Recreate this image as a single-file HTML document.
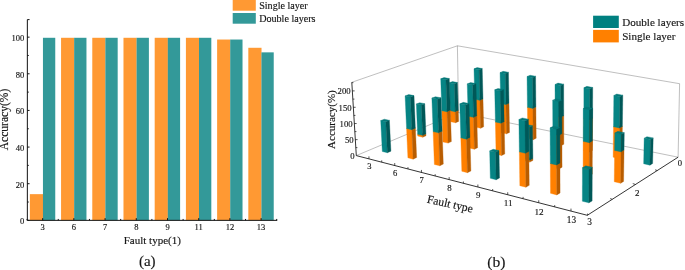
<!DOCTYPE html>
<html><head><meta charset="utf-8"><title>Figure</title><style>html,body{margin:0;padding:0;background:#fff;overflow:hidden}text{stroke:#151515;stroke-width:.15px;paint-order:stroke fill}</style></head><body>
<svg width="685" height="270" viewBox="0 0 685 270" style="display:block;font-family:'Liberation Serif','Times New Roman',serif" fill="#151515">
<rect width="685" height="270" fill="#fff"/>
<rect x="29.86" y="194.15" width="13.2" height="26.20" fill="#FF9933"/>
<rect x="42.95" y="37.79" width="12.3" height="182.56" fill="#339999"/>
<rect x="61.06" y="37.79" width="13.2" height="182.56" fill="#FF9933"/>
<rect x="74.16" y="37.79" width="12.3" height="182.56" fill="#339999"/>
<rect x="92.28" y="37.79" width="13.2" height="182.56" fill="#FF9933"/>
<rect x="105.38" y="37.79" width="12.3" height="182.56" fill="#339999"/>
<rect x="123.48" y="37.79" width="13.2" height="182.56" fill="#FF9933"/>
<rect x="136.59" y="37.79" width="12.3" height="182.56" fill="#339999"/>
<rect x="154.69" y="37.79" width="13.2" height="182.56" fill="#FF9933"/>
<rect x="167.80" y="37.79" width="12.3" height="182.56" fill="#339999"/>
<rect x="185.91" y="37.79" width="13.2" height="182.56" fill="#FF9933"/>
<rect x="199.01" y="37.79" width="12.3" height="182.56" fill="#339999"/>
<rect x="217.12" y="39.53" width="13.2" height="180.82" fill="#FF9933"/>
<rect x="230.22" y="39.53" width="12.3" height="180.82" fill="#339999"/>
<rect x="248.32" y="47.78" width="13.2" height="172.57" fill="#FF9933"/>
<rect x="261.43" y="52.36" width="12.3" height="167.99" fill="#339999"/>
<path d="M27.35 19.6 V220.35 H277.2 M27.35 19.6 h2.2 M27.35 220.35 h2.2 M27.35 202.03 h1.4 M27.35 183.71 h2.2 M27.35 165.39 h1.4 M27.35 147.07 h2.2 M27.35 128.75 h1.4 M27.35 110.43 h2.2 M27.35 92.11 h1.4 M27.35 73.79 h2.2 M27.35 55.47 h1.4 M27.35 37.15 h2.2 M27.05 220.35 v-1.4 M42.66 220.35 v-2.2 M58.26 220.35 v-1.4 M73.86 220.35 v-2.2 M89.47 220.35 v-1.4 M105.08 220.35 v-2.2 M120.68 220.35 v-1.4 M136.28 220.35 v-2.2 M151.89 220.35 v-1.4 M167.50 220.35 v-2.2 M183.10 220.35 v-1.4 M198.71 220.35 v-2.2 M214.31 220.35 v-1.4 M229.92 220.35 v-2.2 M245.52 220.35 v-1.4 M261.12 220.35 v-2.2 M276.73 220.35 v-1.4" stroke="#111" stroke-width="1" fill="none"/>
<text x="24.2" y="224.2" font-size="8.5" text-anchor="end">0</text>
<text x="24.2" y="187.6" font-size="8.5" text-anchor="end">20</text>
<text x="24.2" y="151.0" font-size="8.5" text-anchor="end">40</text>
<text x="24.2" y="114.3" font-size="8.5" text-anchor="end">60</text>
<text x="24.2" y="77.7" font-size="8.5" text-anchor="end">80</text>
<text x="24.2" y="41.0" font-size="8.5" text-anchor="end">100</text>
<text x="42.7" y="230.0" font-size="8.5" text-anchor="middle">3</text>
<text x="73.9" y="230.0" font-size="8.5" text-anchor="middle">6</text>
<text x="105.1" y="230.0" font-size="8.5" text-anchor="middle">7</text>
<text x="136.3" y="230.0" font-size="8.5" text-anchor="middle">8</text>
<text x="167.5" y="230.0" font-size="8.5" text-anchor="middle">9</text>
<text x="198.7" y="230.0" font-size="8.5" text-anchor="middle">11</text>
<text x="229.9" y="230.0" font-size="8.5" text-anchor="middle">12</text>
<text x="261.1" y="230.0" font-size="8.5" text-anchor="middle">13</text>
<text x="152.3" y="244.4" font-size="11" text-anchor="middle">Fault type(1)</text>
<text x="147.3" y="266.2" font-size="15" text-anchor="middle">(a)</text>
<text transform="translate(8.2,119.5) rotate(-90)" font-size="11.55" text-anchor="middle">Accuracy(%)</text>
<rect x="232.7" y="0" width="23.1" height="10.7" fill="#FF9933"/>
<rect x="232.7" y="13" width="23.1" height="10.7" fill="#339999"/>
<text x="259.2" y="9.2" font-size="10.1">Single layer</text>
<text x="259.2" y="21.9" font-size="10.1">Double layers</text>
<path d="M356.3 155.6 L458.6 112.6 M458.6 112.6 L678.1 157.2 M458.6 112.6 L457.4 45.8 M678.1 157.2 L679.6 83.7 M351.8 82.3 L457.4 45.8 M457.4 45.8 L679.6 83.7" stroke="#333" stroke-width="0.32" fill="none"/>
<polygon points="450.64,121.68 455.55,122.75 455.20,111.73 450.28,110.69" fill="#FF8000" stroke="#FF8000" stroke-width="0.35" stroke-linejoin="round"/>
<polygon points="455.55,122.75 458.64,121.40 458.30,110.41 455.20,111.73" fill="#B85C00" stroke="#B85C00" stroke-width="0.35" stroke-linejoin="round"/>
<polygon points="450.28,110.69 455.20,111.73 458.30,110.41 453.38,109.38" fill="#E07000" stroke="#E07000" stroke-width="0.35" stroke-linejoin="round"/>
<polygon points="450.28,110.69 455.20,111.73 454.31,83.74 449.35,82.78" fill="#068484" stroke="#068484" stroke-width="0.35" stroke-linejoin="round"/>
<polygon points="455.20,111.73 458.30,110.41 457.43,82.50 454.31,83.74" fill="#005858" stroke="#005858" stroke-width="0.35" stroke-linejoin="round"/>
<polygon points="449.35,82.78 454.31,83.74 457.43,82.50 452.48,81.55" fill="#047878" stroke="#047878" stroke-width="0.35" stroke-linejoin="round"/>
<polygon points="475.53,127.11 480.60,128.22 479.90,100.28 474.79,99.26" fill="#FF8000" stroke="#FF8000" stroke-width="0.35" stroke-linejoin="round"/>
<polygon points="480.60,128.22 483.65,126.82 482.98,98.97 479.90,100.28" fill="#B85C00" stroke="#B85C00" stroke-width="0.35" stroke-linejoin="round"/>
<polygon points="474.79,99.26 479.90,100.28 482.98,98.97 477.87,97.96" fill="#E07000" stroke="#E07000" stroke-width="0.35" stroke-linejoin="round"/>
<polygon points="474.79,99.26 479.90,100.28 479.14,69.75 473.99,68.82" fill="#068484" stroke="#068484" stroke-width="0.35" stroke-linejoin="round"/>
<polygon points="479.90,100.28 482.98,98.97 482.24,68.53 479.14,69.75" fill="#005858" stroke="#005858" stroke-width="0.35" stroke-linejoin="round"/>
<polygon points="473.99,68.82 479.14,69.75 482.24,68.53 477.10,67.61" fill="#047878" stroke="#047878" stroke-width="0.35" stroke-linejoin="round"/>
<polygon points="501.24,132.72 506.48,133.86 505.95,104.58 500.67,103.52" fill="#FF8000" stroke="#FF8000" stroke-width="0.35" stroke-linejoin="round"/>
<polygon points="506.48,133.86 509.49,132.42 508.99,103.23 505.95,104.58" fill="#B85C00" stroke="#B85C00" stroke-width="0.35" stroke-linejoin="round"/>
<polygon points="500.67,103.52 505.95,104.58 508.99,103.23 503.71,102.18" fill="#E07000" stroke="#E07000" stroke-width="0.35" stroke-linejoin="round"/>
<polygon points="500.67,103.52 505.95,104.58 505.39,73.55 500.07,72.59" fill="#068484" stroke="#068484" stroke-width="0.35" stroke-linejoin="round"/>
<polygon points="505.95,104.58 508.99,103.23 508.45,72.30 505.39,73.55" fill="#005858" stroke="#005858" stroke-width="0.35" stroke-linejoin="round"/>
<polygon points="500.07,72.59 505.39,73.55 508.45,72.30 503.14,71.35" fill="#047878" stroke="#047878" stroke-width="0.35" stroke-linejoin="round"/>
<polygon points="417.71,136.05 422.69,137.21 422.61,135.37 417.63,134.21" fill="#FF8000" stroke="#FF8000" stroke-width="0.35" stroke-linejoin="round"/>
<polygon points="422.69,137.21 426.00,135.75 425.92,133.92 422.61,135.37" fill="#B85C00" stroke="#B85C00" stroke-width="0.35" stroke-linejoin="round"/>
<polygon points="417.63,134.21 422.61,135.37 425.92,133.92 420.95,132.77" fill="#E07000" stroke="#E07000" stroke-width="0.35" stroke-linejoin="round"/>
<polygon points="417.63,134.21 422.61,135.37 421.37,105.06 416.35,103.99" fill="#068484" stroke="#068484" stroke-width="0.35" stroke-linejoin="round"/>
<polygon points="422.61,135.37 425.92,133.92 424.72,103.70 421.37,105.06" fill="#005858" stroke="#005858" stroke-width="0.35" stroke-linejoin="round"/>
<polygon points="416.35,103.99 421.37,105.06 424.72,103.70 419.70,102.65" fill="#047878" stroke="#047878" stroke-width="0.35" stroke-linejoin="round"/>
<polygon points="527.81,138.52 533.23,139.70 532.89,108.38 527.43,107.30" fill="#FF8000" stroke="#FF8000" stroke-width="0.35" stroke-linejoin="round"/>
<polygon points="533.23,139.70 536.19,138.21 535.88,107.00 532.89,108.38" fill="#B85C00" stroke="#B85C00" stroke-width="0.35" stroke-linejoin="round"/>
<polygon points="527.43,107.30 532.89,108.38 535.88,107.00 530.43,105.92" fill="#E07000" stroke="#E07000" stroke-width="0.35" stroke-linejoin="round"/>
<polygon points="527.43,107.30 532.89,108.38 532.56,77.49 527.05,76.50" fill="#068484" stroke="#068484" stroke-width="0.35" stroke-linejoin="round"/>
<polygon points="532.89,108.38 535.88,107.00 535.58,76.21 532.56,77.49" fill="#005858" stroke="#005858" stroke-width="0.35" stroke-linejoin="round"/>
<polygon points="527.05,76.50 532.56,77.49 535.58,76.21 530.07,75.22" fill="#047878" stroke="#047878" stroke-width="0.35" stroke-linejoin="round"/>
<polygon points="442.95,141.92 448.10,143.11 447.03,111.74 441.84,110.63" fill="#FF8000" stroke="#FF8000" stroke-width="0.35" stroke-linejoin="round"/>
<polygon points="448.10,143.11 451.37,141.61 450.34,110.33 447.03,111.74" fill="#B85C00" stroke="#B85C00" stroke-width="0.35" stroke-linejoin="round"/>
<polygon points="441.84,110.63 447.03,111.74 450.34,110.33 445.16,109.24" fill="#E07000" stroke="#E07000" stroke-width="0.35" stroke-linejoin="round"/>
<polygon points="441.84,110.63 447.03,111.74 445.95,79.81 440.72,78.81" fill="#068484" stroke="#068484" stroke-width="0.35" stroke-linejoin="round"/>
<polygon points="447.03,111.74 450.34,110.33 449.29,78.52 445.95,79.81" fill="#005858" stroke="#005858" stroke-width="0.35" stroke-linejoin="round"/>
<polygon points="440.72,78.81 445.95,79.81 449.29,78.52 444.06,77.52" fill="#047878" stroke="#047878" stroke-width="0.35" stroke-linejoin="round"/>
<polygon points="555.29,144.51 560.90,145.73 560.81,117.14 555.15,116.00" fill="#FF8000" stroke="#FF8000" stroke-width="0.35" stroke-linejoin="round"/>
<polygon points="560.90,145.73 563.81,144.20 563.74,115.70 560.81,117.14" fill="#B85C00" stroke="#B85C00" stroke-width="0.35" stroke-linejoin="round"/>
<polygon points="555.15,116.00 560.81,117.14 563.74,115.70 558.10,114.57" fill="#E07000" stroke="#E07000" stroke-width="0.35" stroke-linejoin="round"/>
<polygon points="555.15,116.00 560.81,117.14 560.70,85.48 555.00,84.45" fill="#068484" stroke="#068484" stroke-width="0.35" stroke-linejoin="round"/>
<polygon points="560.81,117.14 563.74,115.70 563.66,84.15 560.70,85.48" fill="#005858" stroke="#005858" stroke-width="0.35" stroke-linejoin="round"/>
<polygon points="555.00,84.45 560.70,85.48 563.66,84.15 557.97,83.12" fill="#047878" stroke="#047878" stroke-width="0.35" stroke-linejoin="round"/>
<polygon points="469.06,147.99 474.39,149.23 473.53,117.36 468.16,116.22" fill="#FF8000" stroke="#FF8000" stroke-width="0.35" stroke-linejoin="round"/>
<polygon points="474.39,149.23 477.62,147.68 476.80,115.91 473.53,117.36" fill="#B85C00" stroke="#B85C00" stroke-width="0.35" stroke-linejoin="round"/>
<polygon points="468.16,116.22 473.53,117.36 476.80,115.91 471.43,114.78" fill="#E07000" stroke="#E07000" stroke-width="0.35" stroke-linejoin="round"/>
<polygon points="468.16,116.22 473.53,117.36 472.66,84.93 467.24,83.89" fill="#068484" stroke="#068484" stroke-width="0.35" stroke-linejoin="round"/>
<polygon points="473.53,117.36 476.80,115.91 475.96,83.59 472.66,84.93" fill="#005858" stroke="#005858" stroke-width="0.35" stroke-linejoin="round"/>
<polygon points="467.24,83.89 472.66,84.93 475.96,83.59 470.55,82.56" fill="#047878" stroke="#047878" stroke-width="0.35" stroke-linejoin="round"/>
<polygon points="382.31,151.49 387.36,152.74 385.79,121.77 380.71,120.61" fill="#068484" stroke="#068484" stroke-width="0.35" stroke-linejoin="round"/>
<polygon points="387.36,152.74 390.92,151.17 389.39,120.31 385.79,121.77" fill="#005858" stroke="#005858" stroke-width="0.35" stroke-linejoin="round"/>
<polygon points="380.71,120.61 385.79,121.77 389.39,120.31 384.31,119.16" fill="#047878" stroke="#047878" stroke-width="0.35" stroke-linejoin="round"/>
<polygon points="583.72,150.71 589.53,151.98 589.68,119.67 583.82,118.51" fill="#FF8000" stroke="#FF8000" stroke-width="0.35" stroke-linejoin="round"/>
<polygon points="589.53,151.98 592.39,150.40 592.56,118.20 589.68,119.67" fill="#B85C00" stroke="#B85C00" stroke-width="0.35" stroke-linejoin="round"/>
<polygon points="583.82,118.51 589.68,119.67 592.56,118.20 586.71,117.04" fill="#E07000" stroke="#E07000" stroke-width="0.35" stroke-linejoin="round"/>
<polygon points="583.82,118.51 589.68,119.67 589.82,88.78 583.91,87.71" fill="#068484" stroke="#068484" stroke-width="0.35" stroke-linejoin="round"/>
<polygon points="589.68,119.67 592.56,118.20 592.72,87.41 589.82,88.78" fill="#005858" stroke="#005858" stroke-width="0.35" stroke-linejoin="round"/>
<polygon points="583.91,87.71 589.82,88.78 592.72,87.41 586.83,86.35" fill="#047878" stroke="#047878" stroke-width="0.35" stroke-linejoin="round"/>
<polygon points="496.07,154.27 501.59,155.55 500.96,123.18 495.40,122.00" fill="#FF8000" stroke="#FF8000" stroke-width="0.35" stroke-linejoin="round"/>
<polygon points="501.59,155.55 504.78,153.95 504.18,121.69 500.96,123.18" fill="#B85C00" stroke="#B85C00" stroke-width="0.35" stroke-linejoin="round"/>
<polygon points="495.40,122.00 500.96,123.18 504.18,121.69 498.63,120.51" fill="#E07000" stroke="#E07000" stroke-width="0.35" stroke-linejoin="round"/>
<polygon points="495.40,122.00 500.96,123.18 500.33,90.89 494.72,89.81" fill="#068484" stroke="#068484" stroke-width="0.35" stroke-linejoin="round"/>
<polygon points="500.96,123.18 504.18,121.69 503.58,89.50 500.33,90.89" fill="#005858" stroke="#005858" stroke-width="0.35" stroke-linejoin="round"/>
<polygon points="494.72,89.81 500.33,90.89 503.58,89.50 497.98,88.44" fill="#047878" stroke="#047878" stroke-width="0.35" stroke-linejoin="round"/>
<polygon points="407.90,157.85 413.12,159.15 411.83,129.65 406.57,128.44" fill="#FF8000" stroke="#FF8000" stroke-width="0.35" stroke-linejoin="round"/>
<polygon points="413.12,159.15 416.65,157.53 415.39,128.13 411.83,129.65" fill="#B85C00" stroke="#B85C00" stroke-width="0.35" stroke-linejoin="round"/>
<polygon points="406.57,128.44 411.83,129.65 415.39,128.13 410.14,126.93" fill="#E07000" stroke="#E07000" stroke-width="0.35" stroke-linejoin="round"/>
<polygon points="406.57,128.44 411.83,129.65 410.41,97.01 405.10,95.91" fill="#068484" stroke="#068484" stroke-width="0.35" stroke-linejoin="round"/>
<polygon points="411.83,129.65 415.39,128.13 414.00,95.60 410.41,97.01" fill="#005858" stroke="#005858" stroke-width="0.35" stroke-linejoin="round"/>
<polygon points="405.10,95.91 410.41,97.01 414.00,95.60 408.71,94.51" fill="#047878" stroke="#047878" stroke-width="0.35" stroke-linejoin="round"/>
<polygon points="613.16,157.14 619.18,158.45 619.56,127.94 613.50,126.72" fill="#FF8000" stroke="#FF8000" stroke-width="0.35" stroke-linejoin="round"/>
<polygon points="619.18,158.45 621.97,156.82 622.38,126.41 619.56,127.94" fill="#B85C00" stroke="#B85C00" stroke-width="0.35" stroke-linejoin="round"/>
<polygon points="613.50,126.72 619.56,127.94 622.38,126.41 616.33,125.20" fill="#E07000" stroke="#E07000" stroke-width="0.35" stroke-linejoin="round"/>
<polygon points="613.50,126.72 619.56,127.94 619.96,96.57 613.84,95.46" fill="#068484" stroke="#068484" stroke-width="0.35" stroke-linejoin="round"/>
<polygon points="619.56,127.94 622.38,126.41 622.80,95.15 619.96,96.57" fill="#005858" stroke="#005858" stroke-width="0.35" stroke-linejoin="round"/>
<polygon points="613.84,95.46 619.96,96.57 622.80,95.15 616.70,94.05" fill="#047878" stroke="#047878" stroke-width="0.35" stroke-linejoin="round"/>
<polygon points="524.05,160.78 529.77,162.11 529.74,160.15 524.02,158.83" fill="#FF8000" stroke="#FF8000" stroke-width="0.35" stroke-linejoin="round"/>
<polygon points="529.77,162.11 532.91,160.45 532.89,158.50 529.74,160.15" fill="#B85C00" stroke="#B85C00" stroke-width="0.35" stroke-linejoin="round"/>
<polygon points="524.02,158.83 529.74,160.15 532.89,158.50 527.18,157.19" fill="#E07000" stroke="#E07000" stroke-width="0.35" stroke-linejoin="round"/>
<polygon points="524.02,158.83 529.74,160.15 529.35,127.21 523.59,126.00" fill="#068484" stroke="#068484" stroke-width="0.35" stroke-linejoin="round"/>
<polygon points="529.74,160.15 532.89,158.50 532.53,125.68 529.35,127.21" fill="#005858" stroke="#005858" stroke-width="0.35" stroke-linejoin="round"/>
<polygon points="523.59,126.00 529.35,127.21 532.53,125.68 526.77,124.47" fill="#047878" stroke="#047878" stroke-width="0.35" stroke-linejoin="round"/>
<polygon points="434.39,164.44 439.80,165.78 438.60,132.82 433.14,131.58" fill="#FF8000" stroke="#FF8000" stroke-width="0.35" stroke-linejoin="round"/>
<polygon points="439.80,165.78 443.29,164.11 442.13,131.26 438.60,132.82" fill="#B85C00" stroke="#B85C00" stroke-width="0.35" stroke-linejoin="round"/>
<polygon points="433.14,131.58 438.60,132.82 442.13,131.26 436.68,130.03" fill="#E07000" stroke="#E07000" stroke-width="0.35" stroke-linejoin="round"/>
<polygon points="433.14,131.58 438.60,132.82 437.38,99.25 431.87,98.12" fill="#068484" stroke="#068484" stroke-width="0.35" stroke-linejoin="round"/>
<polygon points="438.60,132.82 442.13,131.26 440.94,97.80 437.38,99.25" fill="#005858" stroke="#005858" stroke-width="0.35" stroke-linejoin="round"/>
<polygon points="431.87,98.12 437.38,99.25 440.94,97.80 435.45,96.68" fill="#047878" stroke="#047878" stroke-width="0.35" stroke-linejoin="round"/>
<polygon points="643.66,163.79 649.90,165.15 650.44,139.51 644.16,138.24" fill="#068484" stroke="#068484" stroke-width="0.35" stroke-linejoin="round"/>
<polygon points="649.90,165.15 652.63,163.46 653.18,137.91 650.44,139.51" fill="#005858" stroke="#005858" stroke-width="0.35" stroke-linejoin="round"/>
<polygon points="644.16,138.24 650.44,139.51 653.18,137.91 646.92,136.65" fill="#047878" stroke="#047878" stroke-width="0.35" stroke-linejoin="round"/>
<polygon points="553.04,167.52 558.96,168.89 558.83,135.46 552.86,134.19" fill="#FF8000" stroke="#FF8000" stroke-width="0.35" stroke-linejoin="round"/>
<polygon points="558.96,168.89 562.05,167.19 561.95,133.86 558.83,135.46" fill="#B85C00" stroke="#B85C00" stroke-width="0.35" stroke-linejoin="round"/>
<polygon points="552.86,134.19 558.83,135.46 561.95,133.86 555.98,132.60" fill="#E07000" stroke="#E07000" stroke-width="0.35" stroke-linejoin="round"/>
<polygon points="552.86,134.19 558.83,135.46 558.70,101.40 552.67,100.25" fill="#068484" stroke="#068484" stroke-width="0.35" stroke-linejoin="round"/>
<polygon points="558.83,135.46 561.95,133.86 561.85,99.92 558.70,101.40" fill="#005858" stroke="#005858" stroke-width="0.35" stroke-linejoin="round"/>
<polygon points="552.67,100.25 558.70,101.40 561.85,99.92 555.83,98.78" fill="#047878" stroke="#047878" stroke-width="0.35" stroke-linejoin="round"/>
<polygon points="461.84,171.27 467.45,172.66 466.48,139.15 460.83,137.87" fill="#FF8000" stroke="#FF8000" stroke-width="0.35" stroke-linejoin="round"/>
<polygon points="467.45,172.66 470.90,170.93 469.97,137.54 466.48,139.15" fill="#B85C00" stroke="#B85C00" stroke-width="0.35" stroke-linejoin="round"/>
<polygon points="460.83,137.87 466.48,139.15 469.97,137.54 464.32,136.26" fill="#E07000" stroke="#E07000" stroke-width="0.35" stroke-linejoin="round"/>
<polygon points="460.83,137.87 466.48,139.15 465.50,105.02 459.79,103.85" fill="#068484" stroke="#068484" stroke-width="0.35" stroke-linejoin="round"/>
<polygon points="466.48,139.15 469.97,137.54 469.01,103.53 465.50,105.02" fill="#005858" stroke="#005858" stroke-width="0.35" stroke-linejoin="round"/>
<polygon points="459.79,103.85 465.50,105.02 469.01,103.53 463.32,102.36" fill="#047878" stroke="#047878" stroke-width="0.35" stroke-linejoin="round"/>
<polygon points="583.09,174.50 589.23,175.93 589.38,142.63 583.18,141.31" fill="#FF8000" stroke="#FF8000" stroke-width="0.35" stroke-linejoin="round"/>
<polygon points="589.23,175.93 592.26,174.17 592.43,140.97 589.38,142.63" fill="#B85C00" stroke="#B85C00" stroke-width="0.35" stroke-linejoin="round"/>
<polygon points="583.18,141.31 589.38,142.63 592.43,140.97 586.25,139.67" fill="#E07000" stroke="#E07000" stroke-width="0.35" stroke-linejoin="round"/>
<polygon points="583.18,141.31 589.38,142.63 589.53,109.75 583.27,108.54" fill="#068484" stroke="#068484" stroke-width="0.35" stroke-linejoin="round"/>
<polygon points="589.38,142.63 592.43,140.97 592.61,108.21 589.53,109.75" fill="#005858" stroke="#005858" stroke-width="0.35" stroke-linejoin="round"/>
<polygon points="583.27,108.54 589.53,109.75 592.61,108.21 586.37,107.02" fill="#047878" stroke="#047878" stroke-width="0.35" stroke-linejoin="round"/>
<polygon points="490.31,178.34 496.13,179.79 495.55,152.25 489.69,150.89" fill="#068484" stroke="#068484" stroke-width="0.35" stroke-linejoin="round"/>
<polygon points="496.13,179.79 499.53,178.00 498.97,150.55 495.55,152.25" fill="#005858" stroke="#005858" stroke-width="0.35" stroke-linejoin="round"/>
<polygon points="489.69,150.89 495.55,152.25 498.97,150.55 493.12,149.21" fill="#047878" stroke="#047878" stroke-width="0.35" stroke-linejoin="round"/>
<polygon points="614.26,181.75 620.64,183.24 621.05,151.81 614.62,150.43" fill="#FF8000" stroke="#FF8000" stroke-width="0.35" stroke-linejoin="round"/>
<polygon points="620.64,183.24 623.60,181.41 624.04,150.09 621.05,151.81" fill="#B85C00" stroke="#B85C00" stroke-width="0.35" stroke-linejoin="round"/>
<polygon points="614.62,150.43 621.05,151.81 624.04,150.09 617.62,148.72" fill="#E07000" stroke="#E07000" stroke-width="0.35" stroke-linejoin="round"/>
<polygon points="614.62,150.43 621.05,151.81 621.29,134.30 614.82,132.99" fill="#068484" stroke="#068484" stroke-width="0.35" stroke-linejoin="round"/>
<polygon points="621.05,151.81 624.04,150.09 624.28,132.65 621.29,134.30" fill="#005858" stroke="#005858" stroke-width="0.35" stroke-linejoin="round"/>
<polygon points="614.82,132.99 621.29,134.30 624.28,132.65 617.83,131.34" fill="#047878" stroke="#047878" stroke-width="0.35" stroke-linejoin="round"/>
<polygon points="519.84,185.69 525.88,187.19 525.44,153.25 519.35,151.86" fill="#FF8000" stroke="#FF8000" stroke-width="0.35" stroke-linejoin="round"/>
<polygon points="525.88,187.19 529.23,185.34 528.82,151.51 525.44,153.25" fill="#B85C00" stroke="#B85C00" stroke-width="0.35" stroke-linejoin="round"/>
<polygon points="519.35,151.86 525.44,153.25 528.82,151.51 522.74,150.14" fill="#E07000" stroke="#E07000" stroke-width="0.35" stroke-linejoin="round"/>
<polygon points="519.35,151.86 525.44,153.25 525.02,120.79 518.88,119.52" fill="#068484" stroke="#068484" stroke-width="0.35" stroke-linejoin="round"/>
<polygon points="525.44,153.25 528.82,151.51 528.43,119.18 525.02,120.79" fill="#005858" stroke="#005858" stroke-width="0.35" stroke-linejoin="round"/>
<polygon points="518.88,119.52 525.02,120.79 528.43,119.18 522.30,117.92" fill="#047878" stroke="#047878" stroke-width="0.35" stroke-linejoin="round"/>
<polygon points="550.51,193.32 556.78,194.88 556.65,164.96 550.33,163.51" fill="#FF8000" stroke="#FF8000" stroke-width="0.35" stroke-linejoin="round"/>
<polygon points="556.78,194.88 560.07,192.96 559.96,163.15 556.65,164.96" fill="#B85C00" stroke="#B85C00" stroke-width="0.35" stroke-linejoin="round"/>
<polygon points="550.33,163.51 556.65,164.96 559.96,163.15 553.65,161.71" fill="#E07000" stroke="#E07000" stroke-width="0.35" stroke-linejoin="round"/>
<polygon points="550.33,163.51 556.65,164.96 556.49,129.13 550.11,127.80" fill="#068484" stroke="#068484" stroke-width="0.35" stroke-linejoin="round"/>
<polygon points="556.65,164.96 559.96,163.15 559.84,127.45 556.49,129.13" fill="#005858" stroke="#005858" stroke-width="0.35" stroke-linejoin="round"/>
<polygon points="550.11,127.80 556.49,129.13 559.84,127.45 553.46,126.13" fill="#047878" stroke="#047878" stroke-width="0.35" stroke-linejoin="round"/>
<polygon points="582.37,201.24 588.89,202.86 589.04,169.17 582.46,167.67" fill="#068484" stroke="#068484" stroke-width="0.35" stroke-linejoin="round"/>
<polygon points="588.89,202.86 592.11,200.88 592.29,167.31 589.04,169.17" fill="#005858" stroke="#005858" stroke-width="0.35" stroke-linejoin="round"/>
<polygon points="582.46,167.67 589.04,169.17 592.29,167.31 585.72,165.82" fill="#047878" stroke="#047878" stroke-width="0.35" stroke-linejoin="round"/>
<path d="M351.8 82.3 L356.3 155.6 L587.3 215.3 L678.1 157.2" stroke="#111" stroke-width="0.85" fill="none" stroke-linejoin="round"/>
<path d="M368.94 158.87 v-2.5 M381.72 162.17 v-1.8 M394.72 165.53 v-2.5 M407.96 168.95 v-1.8 M421.44 172.44 v-2.5 M435.17 175.98 v-1.8 M449.15 179.60 v-2.5 M463.38 183.27 v-1.8 M477.89 187.02 v-2.5 M492.67 190.84 v-1.8 M507.73 194.74 v-2.5 M523.09 198.70 v-1.8 M538.74 202.75 v-2.5 M554.70 206.88 v-1.8 M570.98 211.08 v-2.5 M587.59 215.38 v-1.8 M657.26 170.54 l-2.16 -0.72 M635.46 184.48 l-2.70 -0.90 M612.29 199.31 l-2.16 -0.72 M355.81 147.62 h1.6 M355.32 139.63 h2.3 M354.83 131.59 h1.6 M354.33 123.53 h2.3 M353.83 115.42 h1.6 M353.33 107.29 h2.3 M352.83 99.11 h1.6 M352.33 90.90 h2.3 M351.82 82.65 h1.6" stroke="#111" stroke-width="0.7" fill="none"/>
<text x="369.3" y="168.9" font-size="8.51" text-anchor="middle">3</text>
<text x="395.1" y="175.9" font-size="8.62" text-anchor="middle">6</text>
<text x="421.8" y="183.1" font-size="8.73" text-anchor="middle">7</text>
<text x="449.5" y="190.6" font-size="8.84" text-anchor="middle">8</text>
<text x="478.3" y="198.3" font-size="8.96" text-anchor="middle">9</text>
<text x="508.1" y="206.3" font-size="9.07" text-anchor="middle">11</text>
<text x="539.1" y="214.6" font-size="9.18" text-anchor="middle">12</text>
<text x="571.4" y="223.3" font-size="9.29" text-anchor="middle">13</text>
<text x="354.6" y="159.0" font-size="8.7" text-anchor="end">0</text>
<text x="353.6" y="143.1" font-size="8.7" text-anchor="end">50</text>
<text x="352.6" y="127.0" font-size="8.7" text-anchor="end">100</text>
<text x="351.6" y="110.7" font-size="8.7" text-anchor="end">150</text>
<text x="350.6" y="94.3" font-size="8.7" text-anchor="end">200</text>
<text x="680.0" y="166.4" font-size="8.62" text-anchor="middle">0</text>
<text x="637.2" y="195.9" font-size="8.98" text-anchor="middle">2</text>
<text x="589.7" y="225.4" font-size="9.35" text-anchor="middle">3</text>
<text transform="translate(449.2,207.6) rotate(12.6)" font-size="11.6" text-anchor="middle">Fault type</text>
<text transform="translate(335.3,119.6) rotate(-90)" font-size="11.0" text-anchor="middle">Accuracy(%)</text>
<text x="496.3" y="266.6" font-size="15.6" text-anchor="middle">(b)</text>
<rect x="593.1" y="15.7" width="25.7" height="12.3" fill="#008080"/>
<rect x="593.1" y="29.9" width="25.7" height="12.5" fill="#FF8000"/>
<text x="622.2" y="26.2" font-size="11.1">Double layers</text>
<text x="622.2" y="40.3" font-size="11.1">Single layer</text>
</svg>
</body></html>
